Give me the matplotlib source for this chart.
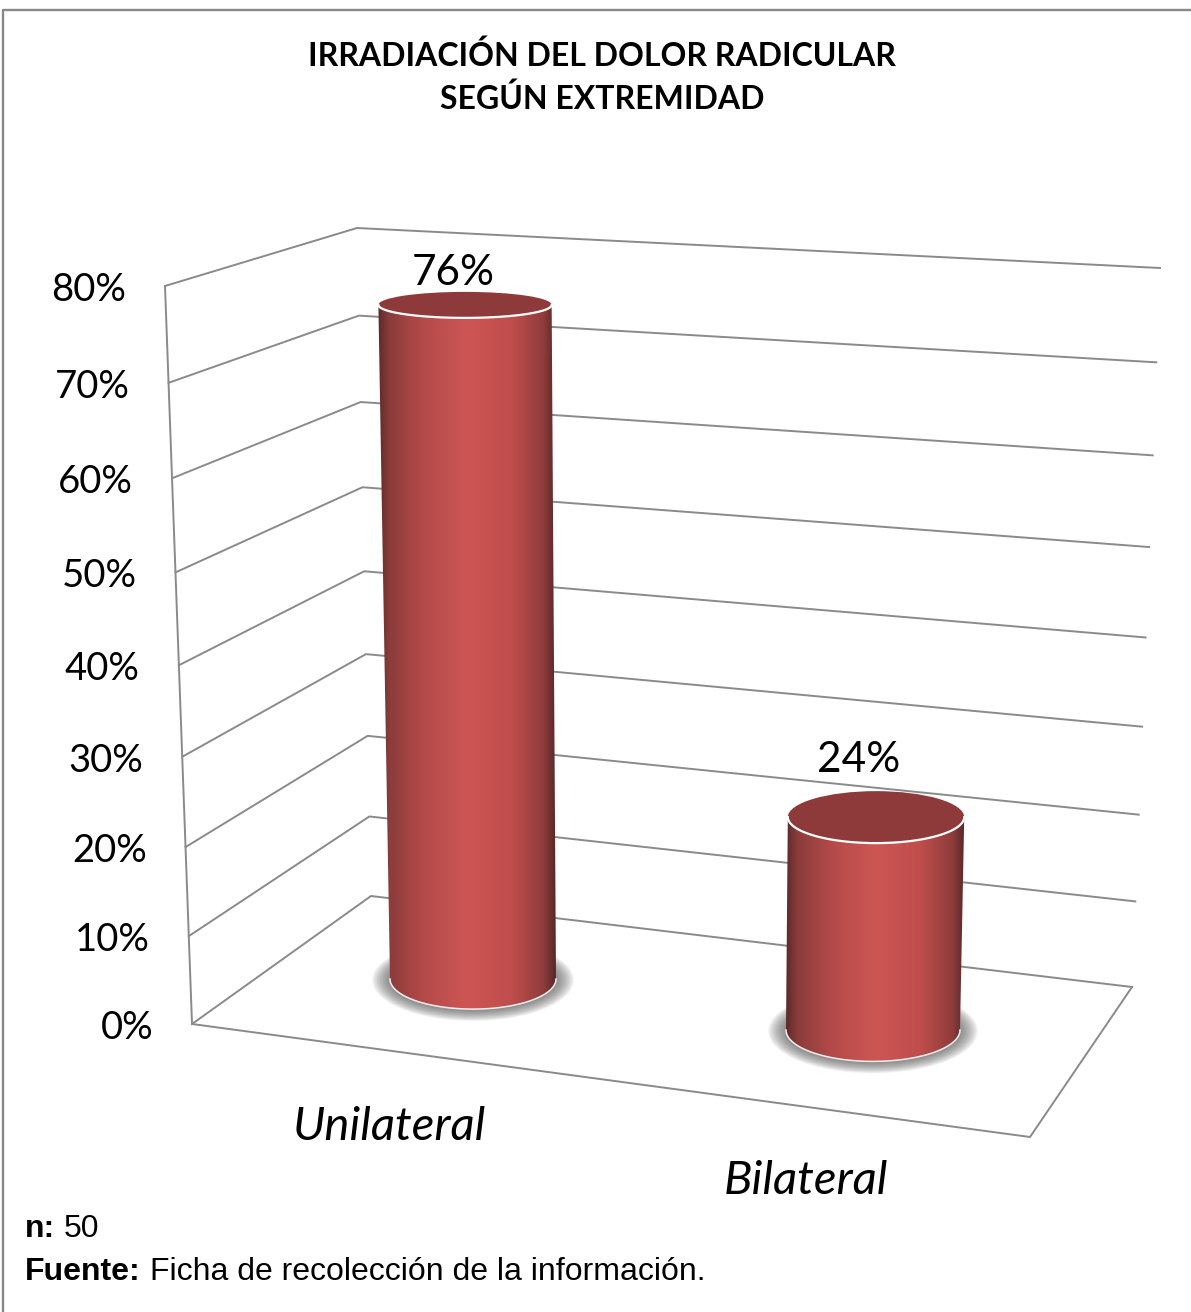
import numpy as np
import matplotlib
matplotlib.use('Agg')
import matplotlib.pyplot as plt
from matplotlib.colors import LinearSegmentedColormap
from matplotlib.patches import Ellipse, PathPatch
from matplotlib.path import Path

title = 'IRRADIACIÓN DEL DOLOR RADICULAR\nSEGÚN EXTREMIDAD'
categories = ['Unilateral', 'Bilateral']
values = [76, 24]
value_labels = ['76%', '24%']
axis_ticks = [0, 10, 20, 30, 40, 50, 60, 70, 80]
sample = '50'
source = 'Ficha de recolección de la información.'

GRID = '#8a8a8a'
TOP = '#8f3a3a'
W, H = 1191, 1312

# corners of the 3d box in pixels: value 0 and value 80
FRONT = np.array([[192, 1024], [165, 286]], float)
BACK = np.array([[371, 896], [357, 228]], float)
RIGHT = np.array([[1132, 987], [1160, 268]], float)
FLOOR_FRONT = (1030, 1137)


def wall_point(edge, v):
    # slight perspective along the vertical edges
    k = -0.054
    t = v / 80
    t = t * (1 + k) / (1 + k * t)
    return edge[0] + (edge[1] - edge[0]) * t


def ellipse_height(y):
    return 0.0507 * (y + 208)


def cylinder(ax, v, base_x, base_y, base_w, cmap):
    top_y = base_y - v * 8.87
    grow = 1 + 6.5e-5 * (base_y - top_y)
    top_x = 655 + (base_x - 655) * grow
    top_w = base_w * grow
    hb = ellipse_height(base_y)
    ht = ellipse_height(top_y)

    # soft shadow on the floor
    for i in range(20):
        s = 1 - i / 20
        ax.add_patch(Ellipse((base_x, base_y + 1), base_w + 36 * s, hb + 22 * s,
                             fc='#606060', ec='none', alpha=0.05, zorder=3))

    # body outline
    a = np.linspace(np.pi, 2 * np.pi, 60)
    low = np.c_[base_x + base_w / 2 * np.cos(a), base_y - hb / 2 * np.sin(a)]
    pts = np.vstack([[[top_x - top_w / 2, top_y]], low, [[top_x + top_w / 2, top_y]]])
    patch = PathPatch(Path(np.vstack([pts, pts[:1]])), fc='none', ec='none', zorder=4)
    ax.add_patch(patch)
    left = min(top_x - top_w / 2, base_x - base_w / 2)
    right = max(top_x + top_w / 2, base_x + base_w / 2)
    img = ax.imshow(np.linspace(0, 1, 256).reshape(1, -1), cmap=cmap, aspect='auto',
                    extent=(left, right, base_y + hb / 2 + 1, top_y - 1), zorder=4)
    img.set_clip_path(patch)
    ax.plot(low[:, 0], low[:, 1], color='#f4eeee', lw=1.1, zorder=5)

    # top face
    ax.add_patch(Ellipse((top_x, top_y), top_w, ht, fc=TOP, ec='none', zorder=5))
    arc = np.linspace(0, np.pi, 60)
    ax.plot(top_x + top_w / 2 * np.cos(arc), top_y + ht / 2 * np.sin(arc),
            color='white', lw=1.6, zorder=6)
    return top_x, top_y - ht / 2


fig = plt.figure(figsize=(W / 100, H / 100), dpi=100)
ax = fig.add_axes([0, 0, 1, 1])
ax.set_xlim(0, W)
ax.set_ylim(H, 0)
ax.axis('off')

# frame of the picture
ax.plot([3, 3, W], [H, 9.5, 9.5], color='#888888', lw=1.7, zorder=1)

lato = ['Lato', 'DejaVu Sans']
ax.text(602, 77, title, ha='center', va='center', fontsize=23, fontweight='bold',
        family=lato, linespacing=1.5, color='black')

# walls and floor
for v in axis_ticks:
    f = wall_point(FRONT, v)
    b = wall_point(BACK, v)
    r = wall_point(RIGHT, v)
    ax.plot([f[0], b[0], r[0]], [f[1], b[1], r[1]], color=GRID, lw=1.4, zorder=2)
    ax.text(f[0] - 39, f[1] + 4, '%d%%' % v, ha='right', va='center', fontsize=27.5,
            family=lato, color='black')
ax.plot([FRONT[0, 0], FRONT[1, 0]], [FRONT[0, 1], FRONT[1, 1]], color=GRID, lw=1.4, zorder=2)
ax.plot([FRONT[0, 0], FLOOR_FRONT[0], RIGHT[0, 0]], [FRONT[0, 1], FLOOR_FRONT[1], RIGHT[0, 1]],
        color=GRID, lw=1.4, zorder=2)

cmap = LinearSegmentedColormap.from_list('cyl', [
    (0.0, '#5c2a2a'), (0.06, '#8a3c3b'), (0.25, '#b34a49'), (0.50, '#cd5653'),
    (0.75, '#bf4e4c'), (0.93, '#8f3d3c'), (1.0, '#582828')])

base_x = [473, 873]
base_y = [979, 1030]
base_w = [166, 174]
label_x = [389.5, 806]
label_y = [1127, 1181]
value_dx = [-12, -17]
value_dy = [0, -12]

for i, v in enumerate(values):
    x, y = cylinder(ax, v, base_x[i], base_y[i], base_w[i], cmap)
    ax.text(x + value_dx[i], y + value_dy[i], value_labels[i], ha='center', va='bottom',
            fontsize=30.5, family=lato, color='black', zorder=7)
    ax.text(label_x[i], label_y[i], categories[i], ha='center', va='center', fontsize=34,
            style='italic', family=lato, color='black')

arial = ['Liberation Sans', 'DejaVu Sans']
ax.text(25, 1229, 'n:', fontsize=23, fontweight='bold', family=arial, va='center')
ax.text(64, 1229, sample, fontsize=23, family=arial, va='center')
ax.text(25, 1272, 'Fuente:', fontsize=23, fontweight='bold', family=arial, va='center')
ax.text(150, 1272, source, fontsize=23, family=arial, va='center')

fig.savefig('out.png', dpi=100, facecolor='white')
